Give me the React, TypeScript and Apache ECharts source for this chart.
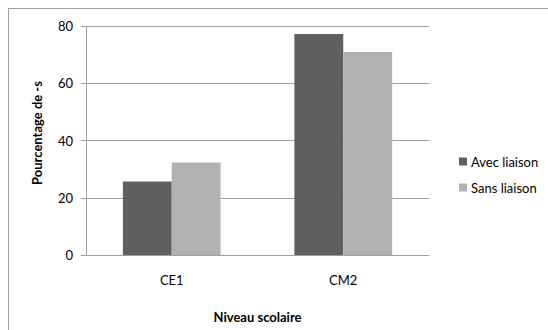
import React, { useEffect, useRef } from "react";
import * as echarts from "echarts";

const categories = ["CE1", "CM2"];
const avecLiaison = [25.7, 77.2];
const sansLiaison = [32.3, 70.9];
const seriesNames = ["Avec liaison", "Sans liaison"];
const xTitle = "Niveau scolaire";
const yTitle = "Pourcentage de -s";

const FONT = "Lato, 'Open Sans', sans-serif";

export default function App() {
  const ref = useRef<HTMLDivElement>(null);
  useEffect(() => {
    if (!ref.current) return;
    const chart = echarts.init(ref.current, null, { renderer: "svg" });
    chart.setOption({
      animation: false,
      backgroundColor: "#ffffff",
      textStyle: { fontFamily: FONT },
      grid: { left: 86, right: 119, top: 26, bottom: 75, containLabel: false },
      legend: {
        orient: "vertical",
        left: 454,
        top: 150,
        itemWidth: 8,
        itemHeight: 8,
        itemGap: 13,
        icon: "rect",
        textStyle: { fontFamily: FONT, fontSize: 13, color: "#000", padding: [0, 0, 0, -1] },
        data: seriesNames,
      },
      xAxis: {
        type: "category",
        data: categories,
        axisLine: { lineStyle: { color: "#a0a0a0", width: 1 } },
        axisTick: { show: false },
        axisLabel: { color: "#000", fontSize: 13, fontFamily: FONT, margin: 18 },
        name: xTitle,
        nameLocation: "middle",
        nameGap: 55,
        nameTextStyle: { color: "#000", fontSize: 13, fontWeight: "bold", fontFamily: FONT },
      },
      yAxis: {
        type: "value",
        min: 0,
        max: 80,
        interval: 20,
        axisLine: { show: true, lineStyle: { color: "#a0a0a0", width: 1 } },
        axisTick: { show: true, length: 5, lineStyle: { color: "#a0a0a0" } },
        splitLine: { lineStyle: { color: "#a0a0a0", width: 1 } },
        axisLabel: { color: "#000", fontSize: 13, fontFamily: FONT, margin: 13 },
      },
      graphic: [
        {
          type: "line",
          shape: { x1: 8, y1: 8.5, x2: 548, y2: 8.5 },
          style: { stroke: "#a0a0a0", lineWidth: 1 },
        },
        {
          type: "line",
          shape: { x1: 8.5, y1: 8, x2: 8.5, y2: 330 },
          style: { stroke: "#a0a0a0", lineWidth: 1 },
        },
        {
          type: "text",
          x: 37,
          y: 133,
          rotation: Math.PI / 2,
          style: {
            text: yTitle,
            fill: "#000",
            font: `bold 13px ${FONT}`,
            align: "center",
            verticalAlign: "middle",
          },
        },
      ],
      series: [
        {
          name: seriesNames[0],
          type: "bar",
          data: avecLiaison,
          itemStyle: { color: "#606060" },
          barGap: "0%",
          barCategoryGap: "43%",
        },
        {
          name: seriesNames[1],
          type: "bar",
          data: sansLiaison,
          itemStyle: { color: "#b2b2b2" },
          barGap: "0%",
          barCategoryGap: "43%",
        },
      ],
    });
    return () => chart.dispose();
  }, []);
  return (
    <div
      ref={ref}
      style={{ position: "absolute", left: 0, top: 0, width: 548, height: 330 }}
    />
  );
}
